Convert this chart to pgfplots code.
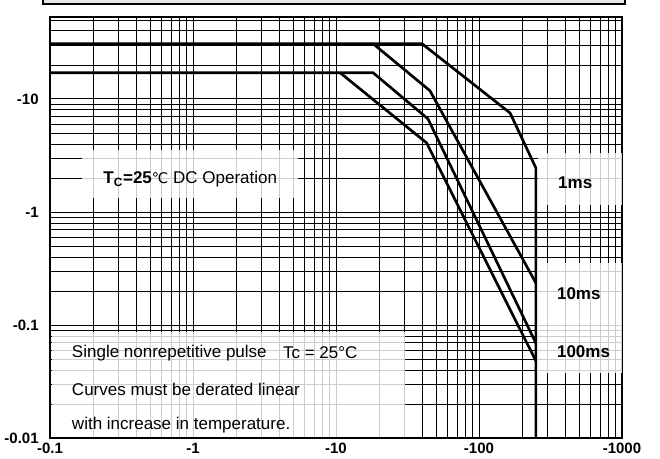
\documentclass[border=0pt]{standalone}
\usepackage{pgfplots}
\pgfplotsset{compat=1.18}
\usepackage{fontspec}
\setmainfont{Liberation Sans}
\newfontfamily\dejavu{DejaVu Sans}

\begin{document}
\begin{tikzpicture}
% whole page = 660 x 459 px at 0.75pt/px, axis lower-left at (50px, 438px)
\path[use as bounding box] (-37.5pt,-15.75pt) rectangle (457.5pt,328.5pt);
% remains of the title box cut at the top
\fill[gray!20] (-5.25pt,325.5pt) rectangle (431.25pt,329pt);
\draw[black, line width=1.5pt] (-5.25pt,329pt) -- (-5.25pt,325.5pt) -- (431.25pt,325.5pt) -- (431.25pt,329pt);
\begin{axis}[
    at={(0,0)}, anchor=south west,
    scale only axis,
    width=429pt, height=315.75pt,
    xmode=log, ymode=log,
    xmin=0.1, xmax=1000,
    ymin=0.01, ymax=53,
    xtick={0.1,1,10,100,1000},
    xticklabels={-0.1,-1,-10,-100,-1000},
    ytick={0.01,0.1,1,10},
    yticklabels={-0.01,-0.1,-1,-10},
    minor xtick={0.2,0.3,0.4,0.5,0.6,0.7,0.8,0.9,2,3,4,5,6,7,8,9,20,30,40,50,60,70,80,90,200,300,400,500,600,700,800,900},
    minor ytick={0.02,0.03,0.04,0.05,0.06,0.07,0.08,0.09,0.2,0.3,0.4,0.5,0.6,0.7,0.8,0.9,2,3,4,5,6,7,8,9,20,30,40,50},
    tick label style={font=\fontsize{11.25}{13}\selectfont\bfseries},
    yticklabel style={xshift=-5pt},
    major tick length=0pt, minor tick length=0pt,
    grid=both,
    major grid style={black, line width=0.6pt},
    minor grid style={black, line width=0.5pt},
    axis line style={black, line width=0.8pt},
    clip=false,
]
% faded label backgrounds
\fill[white, opacity=0.8] (axis description cs:0.056,0.570) rectangle (axis description cs:0.434,0.684);
\fill[white, opacity=0.8] (axis description cs:0.853,0.553) rectangle (axis description cs:1.0,0.677);
\fill[white, opacity=0.8] (axis description cs:0.851,0.154) rectangle (axis description cs:1.0,0.416);
\fill[white, opacity=0.8] (axis description cs:0.003,0.003) rectangle (axis description cs:0.621,0.252);

% 1ms
\addplot[black, line width=2pt] coordinates {(0.1,30.7) (40,30.7) (165,7.5) (250,2.45) (250,0.01)};
% 10ms
\addplot[black, line width=2pt] coordinates {(18.2,30.7) (45.4,11.8) (250,0.235)};
% 100ms
\addplot[black, line width=2pt] coordinates {(0.1,17) (18.2,17) (44,6.65) (250,0.069)};
% DC
\addplot[black, line width=2pt] coordinates {(10.7,17) (43,4.08) (250,0.048)};

\node[anchor=west, inner sep=0pt, font=\fontsize{12.75}{15}\selectfont] at (axis description cs:0.093,0.615)
  {\textbf{T\textsubscript{C}=25}{\dejavu\fontsize{11}{13}\selectfont ℃} DC Operation};
\node[anchor=west, inner sep=0pt, font=\fontsize{12.75}{15}\selectfont\bfseries] at (axis description cs:0.888,0.606) {1ms};
\node[anchor=west, inner sep=0pt, font=\fontsize{12.75}{15}\selectfont\bfseries] at (axis description cs:0.886,0.344) {10ms};
\node[anchor=west, inner sep=0pt, font=\fontsize{12.75}{15}\selectfont\bfseries] at (axis description cs:0.886,0.204) {100ms};
\node[anchor=west, inner sep=0pt, font=\fontsize{12.75}{15}\selectfont] at (axis description cs:0.038,0.202) {Single nonrepetitive pulse};
\node[anchor=west, inner sep=0pt, font=\fontsize{12.75}{15}\selectfont] at (axis description cs:0.407,0.202) {Tc = 25°C};
\node[anchor=west, inner sep=0pt, font=\fontsize{12.75}{15}\selectfont] at (axis description cs:0.038,0.116) {Curves must be derated linear};
\node[anchor=west, inner sep=0pt, font=\fontsize{12.75}{15}\selectfont] at (axis description cs:0.038,0.031) {with increase in temperature.};
\end{axis}
\end{tikzpicture}
\end{document}
